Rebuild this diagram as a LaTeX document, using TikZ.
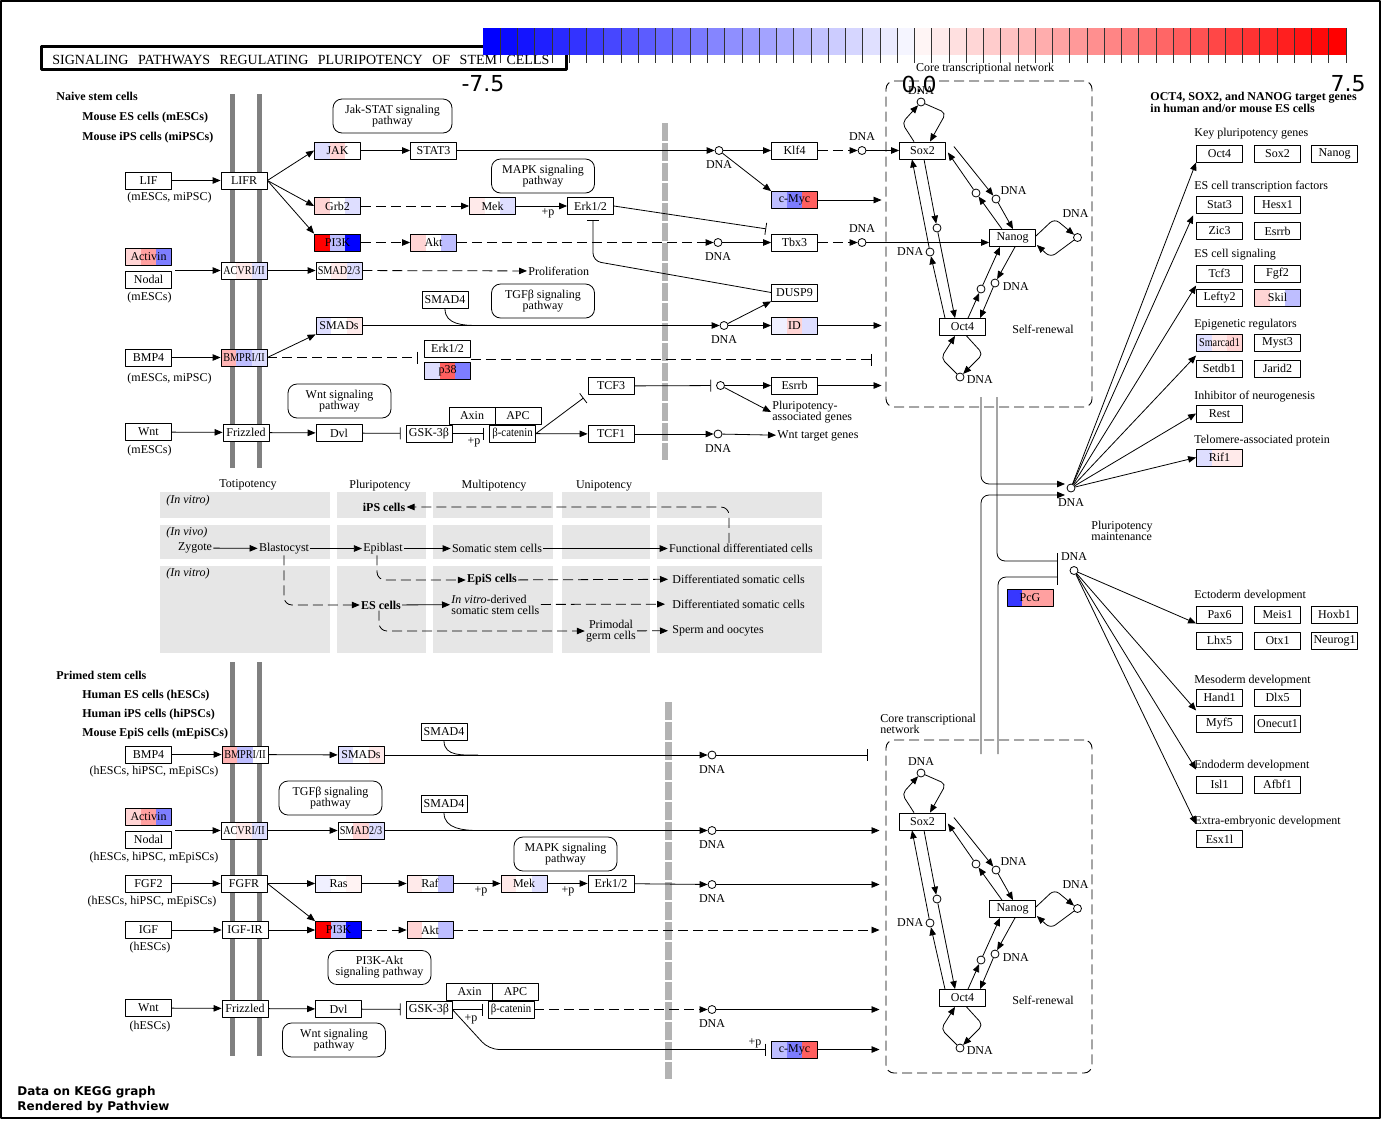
\documentclass[tikz,border=0pt]{standalone}
\usepackage{fontspec}
\usepackage{graphicx}
\setmainfont{Liberation Serif}
\newfontfamily\dejavu{DejaVu Sans}
\usetikzlibrary{arrows.meta,calc,positioning}
% colours of the data boxes
\definecolor{kred}{RGB}{255,0,0}
\definecolor{kredb}{RGB}{255,95,95}
\definecolor{kblue}{RGB}{0,0,255}
\definecolor{kbluep}{RGB}{55,55,255}
\definecolor{kblueb}{RGB}{125,125,255}
\definecolor{kbluec}{RGB}{190,190,255}
\definecolor{kblued}{RGB}{222,222,255}
\definecolor{kbluee}{RGB}{240,240,255}
\definecolor{kpinka}{RGB}{255,212,212}
\definecolor{kpinkb}{RGB}{255,160,160}
\definecolor{kpinkc}{RGB}{255,234,234}
\definecolor{kpinkd}{RGB}{255,180,180}
\definecolor{kpinke}{RGB}{255,243,243}
\definecolor{kgrey}{RGB}{128,128,128}
\definecolor{kdash}{RGB}{179,179,179}
\definecolor{kpanel}{RGB}{230,230,230}
\newcommand\narrowtxt[2][0.85]{\scalebox{#1}[1]{#2}}
\newcommand\titlesp{\hspace{9.5pt}}

\begin{document}
\begin{tikzpicture}[x=1pt,y=-1pt,line width=0.8pt,line join=round,
    every label/.style={lbl},label distance=4.5pt]
  \tikzset{
    gene/.style={draw,fill=white,minimum width=46pt,minimum height=17pt,inner sep=0pt,
      font=\fontsize{12}{12}\selectfont},
    tri/.style n args={3}{path picture={
      \fill[#1] (path picture bounding box.north west) rectangle ([xshift=15.4pt]path picture bounding box.south west);
      \fill[#2] ([xshift=15.4pt]path picture bounding box.north west) rectangle ([xshift=30.7pt]path picture bounding box.south west);
      \fill[#3] ([xshift=30.7pt]path picture bounding box.north west) rectangle (path picture bounding box.south east);}},
    pathbox/.style={draw,rounded corners=9pt,minimum width=103pt,minimum height=34pt,
      align=center,inner sep=0pt,font=\fontsize{12}{11}\selectfont},
    dna/.style={circle,draw,fill=white,minimum size=8pt,inner sep=0pt},
    lbl/.style={inner sep=1pt,font=\fontsize{12}{12}\selectfont},
    bold/.style={font=\bfseries\fontsize{12}{12}\selectfont},
    twoline/.style={align=left,font=\fontsize{12}{11}\selectfont},
    arr/.style={-{Triangle[length=8pt,width=6.5pt]}},
    inh/.style={-{Bar[width=12pt]},shorten >=5pt},
    dsh/.style={dash pattern=on 10pt off 5pt},
    corenet/.pic={
      \node[gene] (-sox2) at (0,0) {Sox2};
      \node[gene] (-nanog) at (90,87.5) {Nanog};
      \node[gene] (-oct4) at (40,176.5) {Oct4};
      \node[dna,label={[label distance=2pt]above:DNA}] (-ds) at (-1.5,-48.5) {};
      \node[dna,label={[label distance=0pt]above right:DNA}] (-dsn) at (73.5,48.5) {};
      \node[dna] (-dns) at (53.5,42.5) {};
      \node[dna] (-dso) at (14.5,77.5) {};
      \node[dna,label={[label distance=1pt]left:DNA}] (-dos) at (7.5,101.5) {};
      \node[dna] (-don) at (58.5,138.5) {};
      \node[dna,label={[label distance=2pt,yshift=-4pt]right:DNA}] (-dno) at (72.5,132.5) {};
      \node[dna,label={[label distance=14pt,xshift=-2pt]above:DNA}] (-dnn) at (155,87) {};
      \node[dna,label={[label distance=1pt,yshift=-3pt]right:DNA}] (-doo) at (37.5,226.5) {};
      \node[lbl] (-self) at (120.5,179) {Self-renewal};
      \draw[arr,rounded corners=5pt] ([xshift=-8.5pt]-sox2.north) -- (-20.5,-27.5) -- (-ds);
      \draw[arr,rounded corners=5pt] (-ds) -- (23.5,-37.5) -- ([xshift=7.5pt]-sox2.north);
      \draw[arr] ([shift={(8,-4)}]-sox2.east) -- (-dsn);
      \draw[arr] (-dsn) -- ([xshift=0.5pt]-nanog.north);
      \draw[arr] ([xshift=-10.5pt]-nanog.north) -- (-dns);
      \draw[arr] (-dns) -- ([shift={(2,2)}]-sox2.east);
      \draw[arr] ([xshift=1.5pt]-sox2.south) -- (-dso);
      \draw[arr] (-dso) -- ([xshift=-7.5pt]-oct4.north);
      \draw[arr] ([xshift=-17.5pt]-oct4.north) -- (-dos);
      \draw[arr] (-dos) -- ([xshift=-10.5pt]-sox2.south);
      \draw[arr] ([xshift=5.5pt]-oct4.north) -- (-don);
      \draw[arr] (-don) -- ([xshift=-12.5pt]-nanog.south);
      \draw[arr] ([xshift=2.5pt]-nanog.south) -- (-dno);
      \draw[arr] (-dno) -- ([xshift=17.5pt]-oct4.north);
      \draw[arr,rounded corners=6pt] ([yshift=2pt]-nanog.east) -- (132,68) -- (-dnn);
      \draw[arr,rounded corners=6pt] (-dnn) -- (128,107) -- ([shift={(1,7)}]-nanog.east);
      \draw[arr,rounded corners=5pt] ([xshift=4pt]-oct4.south) -- (60.5,203.5) -- (-doo);
      \draw[arr,rounded corners=5pt] (-doo) -- (18.5,207.5) -- ([xshift=-7.5pt]-oct4.south);
    }
  }
  \useasboundingbox (0,0) rectangle (1381,1120);
  \draw[line width=1.5pt] (1,1) rectangle (1380,1118);

  % title and colour key
  \node[draw,line width=3pt,minimum width=525pt,minimum height=23pt] (title) at (304,58) {};
  \node[anchor=west,inner sep=0pt,font=\fontsize{14}{14}\selectfont] (titletxt) at (52,59.5)
    {SIGNALING\titlesp PATHWAYS\titlesp REGULATING\titlesp PLURIPOTENCY\titlesp OF\titlesp STEM\titlesp CELLS};
  \foreach \i in {0,...,24}{
    \pgfmathtruncatemacro\p{100-4*\i}
    \fill[kblue!\p!white] ({483+17.26*\i},28) rectangle ++(17.4,27);}
  \foreach \i in {25,...,49}{
    \pgfmathtruncatemacro\p{4*(\i-24)}
    \fill[kred!\p!white] ({483+17.26*\i},28) rectangle ++(17.4,27);}
  \foreach \i in {1,...,50}
    \draw[black!80] ({483+17.26*\i},28) -- ++(0,35);

  % membranes
  \foreach \x in {232.5,259.5}{
    \fill[kgrey] (\x-2.5,94) rectangle (\x+2.5,468);
    \fill[kgrey] (\x-2.5,662) rectangle (\x+2.5,1056);}
  \draw[kdash,line width=6pt,dash pattern=on 17.5pt off 2.5pt] (665,123) -- (665,460);
  \draw[kdash,line width=7pt,dash pattern=on 17.5pt off 2.5pt] (668.5,702) -- (668.5,1079);

  % potency panels
  \foreach \xa/\xb in {160/330,337/426,433/553,562/650,657/822}{
    \fill[kpanel] (\xa,492) rectangle (\xb,518);
    \fill[kpanel] (\xa,525) rectangle (\xb,559);
    \fill[kpanel] (\xa,566) rectangle (\xb,653);}

  % headings
  \node[lbl,bold,anchor=west] (naive) at (55,96) {Naive stem cells};
  \node[lbl,bold,anchor=west] (mes) at (81,118) {Mouse ES cells (mESCs)};
  \node[lbl,bold,anchor=west] (mips) at (81,138) {Mouse iPS cells (miPSCs)};
  \node[lbl,bold,anchor=west] (primed) at (55,675) {Primed stem cells};
  \node[lbl,bold,anchor=west] (hes) at (81,696) {Human ES cells (hESCs)};
  \node[lbl,bold,anchor=west] (hips) at (81,715) {Human iPS cells (hiPSCs)};
  \node[lbl,bold,anchor=west] (meps) at (81,734) {Mouse EpiS cells (mEpiSCs)};

  % naive stem cells: receptors and signalling
  \node[gene] (lif) at (148.5,180.5) {LIF};
  \node[lbl] (liflbl) at (169.5,198) {(mESCs, miPSC)};
  \node[gene] (lifr) at (244,180.5) {LIFR};
  \node[pathbox,minimum width=119pt] (jakstat) at (392.5,116) {Jak-STAT signaling\\pathway};
  \node[gene,tri={kblued}{kpinka}{white}] (jak) at (337.5,150.5) {JAK};
  \node[gene] (stat3) at (433.5,150.5) {STAT3};
  \node[gene,tri={kpinka}{white}{kblued}] (grb2) at (337.5,206) {Grb2};
  \node[gene,tri={kred}{kbluec}{kblue}] (pik) at (337.5,242.5) {PI3K};
  \node[gene,tri={kpinka}{white}{kbluec}] (akt) at (433.5,242.5) {Akt};
  \node[pathbox] (mapka) at (543,176) {MAPK signaling\\pathway};
  \node[gene,tri={kpinkc}{white}{kblued}] (mek) at (492.5,206) {Mek};
  \node[gene] (erk) at (590.5,206) {Erk1/2};
  \node[lbl] (pa) at (548,213) {+p};
  \node[gene,tri={kpinka}{kpinkb}{kblueb}] (activin) at (148.5,256.5) {Activin};
  \node[gene] (nodal) at (148.5,279.5) {Nodal};
  \node[lbl] (nodallbl) at (149.5,298) {(mESCs)};
  \node[gene,tri={white}{kpinkc}{kblued}] (acvr) at (244,270.5) {\narrowtxt{ACVRI/II}};
  \node[gene,tri={white}{kpinkc}{kblued}] (smadtt) at (339,270.5) {\narrowtxt{SMAD2/3}};
  \node[lbl,anchor=west] (prolif) at (527,271) {Proliferation};
  \node[gene] (smadfour) at (445,300) {SMAD4};
  \node[pathbox] (tgfa) at (543,301) {TGFβ signaling\\pathway};
  \node[gene,tri={kblued}{white}{kpinkc}] (smads) at (339,325.5) {SMADs};
  \node[gene] (bmp) at (148.5,357.5) {BMP4};
  \node[lbl] (bmplbl) at (169.5,379) {(mESCs, miPSC)};
  \node[gene,tri={kpinkd}{kbluec}{kblued}] (bmpr) at (244,357.5) {\narrowtxt{BMPRI/II}};
  \node[gene] (erkb) at (447.5,348.5) {Erk1/2};
  \node[gene,tri={kblued}{kredb}{kblueb}] (ptt) at (447.5,371) {p38};
  \node[pathbox] (wnta) at (339.5,401) {Wnt signaling\\pathway};
  \node[gene] (wnt) at (148.5,432) {Wnt};
  \node[lbl] (wntlbl) at (149.5,451) {(mESCs)};
  \node[gene] (fzd) at (246,432.5) {Frizzled};
  \node[gene] (dvl) at (339,433) {Dvl};
  \node[gene] (gsk) at (429,433.5) {GSK-3β};
  \node[gene] (axin) at (472,415.5) {Axin};
  \node[gene] (apc) at (518,415.5) {APC};
  \node[gene] (bcat) at (512.5,433.5) {\narrowtxt[0.9]{β-catenin}};
  \node[lbl] (pb) at (474,442) {+p};
  \node[gene] (tcfthree) at (611,386) {TCF3};
  \node[gene] (tcfone) at (611,434) {TCF1};
  \node[gene] (klf) at (794.5,150.5) {Klf4};
  \node[gene,tri={kbluec}{kblueb}{kredb}] (myc) at (794.5,200) {c-Myc};
  \node[gene] (tbx) at (794.5,242.5) {Tbx3};
  \node[gene] (dusp) at (794.5,292.5) {DUSP9};
  \node[gene,tri={kbluee}{kpinka}{kblued}] (idg) at (794.5,325.5) {ID};
  \node[gene] (esrrb) at (794.5,385.5) {Esrrb};
  \node[dna,label=below:DNA] (d1) at (719,150.5) {};
  \node[dna,label=above:DNA] (d2) at (862,150.5) {};
  \node[dna,label=below:DNA] (d3) at (718,242.5) {};
  \node[dna,label=above:DNA] (d4) at (862,242.5) {};
  \node[dna,label=below:DNA] (d5) at (724,325.5) {};
  \node[dna] (d6) at (720.5,385.5) {};
  \node[dna,label=below:DNA] (d7) at (718,434) {};
  \node[lbl,twoline,anchor=west] (pag) at (771,412) {Pluripotency-\\associated genes};
  \node[lbl,anchor=west] (wtg) at (776,436) {Wnt target genes};

  % core transcriptional networks
  \node[draw=black,line width=0.9pt,dsh,rounded corners=8pt,minimum width=206pt,minimum height=326pt] (coreA) at (989,244) {};
  \node[lbl] (ctna) at (985,69) {Core transcriptional network};
  \pic (top) at (922.5,150.5) {corenet};
  \node[draw=black,line width=0.9pt,dsh,rounded corners=8pt,minimum width=206pt,minimum height=333pt] (coreB) at (989,906.5) {};
  \node[lbl,twoline,anchor=west] (ctnb) at (879,723.5) {Core transcriptional\\network};
  \pic (bot) at (922.5,821.5) {corenet};

  % naive connectors
  \draw[arr] (lif) -- (lifr);
  \draw[arr] (lifr.east) -- (jak.west);
  \draw[arr] (lifr.east) -- (grb2.west);
  \draw[arr] (lifr.east) -- (pik.north west);
  \draw[arr] (jak) -- (stat3);
  \draw[arr] (stat3) -- (d1);
  \draw[arr] (d1) -- (klf);
  \draw[arr] (d1) -- (myc.north west);
  \draw[arr,dsh] (klf) -- (d2);
  \draw[arr] (d2) -- (top-sox2);
  \draw[arr,dsh] (grb2) -- (mek);
  \draw[arr] (mek) -- (erk);
  \draw[inh] (erk.east) -- ([shift={(0,-4)}]tbx.north west);
  \draw[inh,rounded corners=8pt] (dusp.west) -- (593,261) -- ([xshift=2.5pt]erk.south);
  \draw[arr,dsh] (pik) -- (akt);
  \draw[arr,dsh] (akt) -- (d3);
  \draw[arr] (d3) -- (tbx);
  \draw[arr,dsh] (tbx) -- (d4);
  \draw[arr] (d4) -- (d4 -| top-nanog.west);
  \coordinate (an1) at (175,270.5);
  \draw[arr] (an1) -- (acvr);
  \draw[arr] (acvr) -- (smadtt);
  \draw[arr,dsh] (smadtt) -- (prolif);
  \coordinate (jn1) at (478,325.5);
  \draw (smadfour.south) .. controls +(0,16) and +(-14,0) .. (jn1);
  \draw[arr] (smads) -- (d5);
  \draw[arr] (d5) -- (dusp.south west);
  \draw[arr] (d5) -- (idg);
  \draw[arr,shorten >=4pt] (idg) -- (idg -| coreA.west);
  \draw[arr,shorten >=4pt] (myc) -- (myc -| coreA.west);
  \draw[arr] (bmp) -- (bmpr);
  \draw[arr] (bmpr.east) -- (smads.south west);
  \draw[inh,dsh,shorten >=6pt] (bmpr) -- (bmpr -| erkb.west);
  \coordinate (pg1) at ($(erkb.south east)!.5!(ptt.north east)$);
  \draw[inh,dsh,shorten >=14pt] (pg1) -- (pg1 -| coreA.west);
  \draw[arr] (wnt) -- (fzd);
  \draw[arr] (fzd) -- (dvl);
  \draw[inh] (dvl) -- (gsk);
  \draw[inh] (gsk) -- (bcat);
  \draw[arr] (bcat) -- (tcfone);
  \draw[inh] (bcat.east) -- (tcfthree.south west);
  \draw[arr] (tcfone) -- (d7);
  \draw[arr] (d7) -- (wtg);
  \draw[inh] (tcfthree) -- (d6);
  \draw[arr] (d6) -- (esrrb);
  \draw[arr] (d6) -- (pag.west);
  \draw[arr,shorten >=4pt] (esrrb) -- (esrrb -| coreA.west);

  % potency scheme
  \node[lbl] (toti) at (248,485) {Totipotency};
  \node[lbl] (pluri) at (380,486) {Pluripotency};
  \node[lbl] (multi) at (494,486) {Multipotency};
  \node[lbl] (uni) at (604,486) {Unipotency};
  \node[lbl,anchor=west] (iva) at (165,501) {\textit{(In vitro)}};
  \node[lbl,bold] (ips) at (384,507) {iPS cells};
  \node[lbl,anchor=west] (ivb) at (165,533) {\textit{(In vivo)}};
  \node[lbl] (zyg) at (195,548) {Zygote};
  \node[lbl] (blast) at (284,548.5) {Blastocyst};
  \node[lbl] (epib) at (383,548.5) {Epiblast};
  \node[lbl] (somst) at (497,548.5) {Somatic stem cells};
  \node[lbl] (funct) at (741,548.5) {Functional differentiated cells};
  \node[lbl,anchor=west] (ivc) at (165,574) {\textit{(In vitro)}};
  \node[lbl,bold] (epis) at (492,580) {EpiS cells};
  \node[lbl,anchor=west] (difa) at (671,579) {Differentiated somatic cells};
  \node[lbl,bold] (escell) at (381,605) {ES cells};
  \node[lbl,twoline,anchor=west] (ivd) at (450,604.5) {\textit{In vitro}-derived\\somatic stem cells};
  \node[lbl,anchor=west] (difb) at (671,604) {Differentiated somatic cells};
  \node[lbl,twoline,align=center] (pgc) at (611,631) {Primodal\\germ cells};
  \node[lbl,anchor=west] (sperm) at (671,630.5) {Sperm and oocytes};
  \draw[arr] (zyg) -- (blast);
  \draw[arr] (blast) -- (epib);
  \draw[arr] (epib) -- (somst);
  \draw[arr] (somst) -- (funct);
  \draw[arr,dsh,rounded corners=8pt] ([xshift=-12pt]funct.north) |- (ips);
  \draw[arr,dsh,rounded corners=8pt] ([xshift=-6pt]epib.south) |- (epis);
  \draw[arr,dsh,shorten >=3pt] (epis) -- (difa);
  \draw[arr,dsh,rounded corners=8pt] (blast) |- (escell);
  \draw[arr] (escell) -- (ivd);
  \draw[arr,dsh,shorten >=6pt] (ivd) -- (difb);
  \draw[arr,dsh,rounded corners=8pt] ([xshift=-2pt]escell.south) |- (pgc);
  \draw[arr,dsh,shorten >=3pt] (pgc) -- (sperm);

  % primed stem cells
  \node[gene] (bmpB) at (148.5,754.5) {BMP4};
  \node[lbl] (bmplblB) at (154,772) {(hESCs, hiPSC, mEpiSCs)};
  \node[gene,tri={kpinkd}{kbluec}{white}] (bmprB) at (245,754.5) {\narrowtxt{BMPRI/II}};
  \node[gene,tri={kblued}{white}{kpinkc}] (smadsB) at (361,755) {SMADs};
  \node[gene] (smadfourB) at (444,732) {SMAD4};
  \node[pathbox] (tgfB) at (330.5,798) {TGFβ signaling\\pathway};
  \node[gene] (smadfourC) at (444,804) {SMAD4};
  \node[gene,tri={kpinka}{kpinkb}{kblueb}] (activinB) at (148.5,816.5) {Activin};
  \node[gene] (nodalB) at (148.5,839.5) {Nodal};
  \node[lbl] (nodallblB) at (154,858) {(hESCs, hiPSC, mEpiSCs)};
  \node[gene,tri={white}{kpinkc}{kblued}] (acvrB) at (244,830.5) {\narrowtxt{ACVRI/II}};
  \node[gene,tri={white}{kpinka}{kblued}] (smadttB) at (361,830.5) {\narrowtxt{SMAD2/3}};
  \node[gene] (fgf) at (148.5,883.5) {FGF2};
  \node[lbl] (fgflbl) at (152,902) {(hESCs, hiPSC, mEpiSCs)};
  \node[gene] (fgfr) at (244,883.5) {FGFR};
  \node[gene,tri={kbluee}{white}{kpinke}] (ras) at (338.5,883.5) {Ras};
  \node[gene,tri={kpinkc}{white}{kbluec}] (raf) at (430,883.5) {Raf};
  \node[pathbox] (mapkB) at (565.5,854) {MAPK signaling\\pathway};
  \node[gene,tri={kpinkc}{white}{kblued}] (mekB) at (524,883.5) {Mek};
  \node[gene] (erkB) at (611,883.5) {Erk1/2};
  \node[lbl] (pc) at (481,891) {+p};
  \node[lbl] (pd) at (568,891) {+p};
  \node[gene] (igf) at (148.5,930) {IGF};
  \node[lbl] (igflbl) at (150,948) {(hESCs)};
  \node[gene] (igfr) at (245,930) {IGF-IR};
  \node[gene,tri={kred}{kbluec}{kblue}] (pikB) at (338.5,930) {PI3K};
  \node[gene,tri={kpinka}{white}{kbluec}] (aktB) at (430,930) {Akt};
  \node[pathbox] (pikakt) at (379.5,967.5) {PI3K-Akt\\signaling pathway};
  \node[gene] (wntB) at (148.5,1008) {Wnt};
  \node[lbl] (wntlblB) at (150,1027) {(hESCs)};
  \node[gene] (fzdB) at (245,1008.5) {Frizzled};
  \node[gene] (dvlB) at (338.5,1009) {Dvl};
  \node[gene] (gskB) at (429,1009.5) {GSK-3β};
  \node[pathbox] (wntpB) at (334,1040) {Wnt signaling\\pathway};
  \node[gene] (axinB) at (469.5,992) {Axin};
  \node[gene] (apcB) at (515.5,992) {APC};
  \node[gene] (bcatB) at (511,1009.5) {\narrowtxt[0.9]{β-catenin}};
  \node[lbl] (pe) at (471,1019) {+p};
  \node[gene,tri={kbluec}{kblueb}{kredb}] (mycB) at (794.5,1049.5) {c-Myc};
  \node[lbl] (pf) at (755,1043) {+p};
  \node[dna,label=below:DNA] (e1) at (712,755) {};
  \node[dna,label=below:DNA] (e2) at (712,830.5) {};
  \node[dna,label=below:DNA] (e3) at (712,884.5) {};
  \node[dna,label=below:DNA] (e4) at (712,1009.5) {};

  % primed connectors
  \draw[arr] (bmpB) -- (bmprB);
  \draw[arr] (bmprB) -- (smadsB);
  \draw[arr] (smadsB) -- (e1);
  \coordinate (jn2) at (478,755);
  \draw (smadfourB.south) .. controls +(0,16) and +(-14,0) .. (jn2);
  \draw[inh,shorten >=18pt] (e1) -- (e1 -| coreB.west);
  \coordinate (an2) at (175,830.5);
  \draw[arr] (an2) -- (acvrB);
  \draw[arr] (acvrB) -- (smadttB);
  \draw[arr] (smadttB) -- (e2);
  \coordinate (jn3) at (478,830.5);
  \draw (smadfourC.south) .. controls +(0,16) and +(-14,0) .. (jn3);
  \draw[arr,shorten >=6pt] (e2) -- (e2 -| coreB.west);
  \draw[arr] (fgf) -- (fgfr);
  \draw[arr] (fgfr) -- (ras);
  \draw[arr] (ras) -- (raf);
  \draw[arr] (raf) -- (mekB);
  \draw[arr] (mekB) -- (erkB);
  \draw[arr] (erkB) -- (e3);
  \draw[arr,shorten >=6pt] (e3) -- (e3 -| coreB.west);
  \draw[arr] (fgfr.east) -- (pikB.north west);
  \draw[arr] (igf) -- (igfr);
  \draw[arr] (igfr) -- (pikB);
  \draw[arr,dsh] (pikB) -- (aktB);
  \draw[arr,dsh,shorten >=6pt] (aktB) -- (aktB -| coreB.west);
  \draw[arr] (wntB) -- (fzdB);
  \draw[arr] (fzdB) -- (dvlB);
  \draw[inh] (dvlB) -- (gskB);
  \draw[inh] (gskB) -- (bcatB);
  \draw[arr,dsh] (bcatB) -- (e4);
  \draw[arr,shorten >=6pt] (e4) -- (e4 -| coreB.west);
  \draw[inh,rounded corners=10pt] (gskB.east) -- (489,1049.5) -- (mycB.west);
  \draw[arr,shorten >=6pt] (mycB) -- (mycB -| coreB.west);

  % links between the two networks
  \coordinate (ta) at (981,397);
  \coordinate (tb) at (997,397);
  \coordinate (ba) at (981,754);
  \coordinate (bb) at (998,754);
  \node[dna,label=below:DNA] (pm) at (1071,488) {};
  \node[lbl,twoline,anchor=west] (pmt) at (1090,530.5) {Pluripotency\\maintenance};
  \node[dna,label=above:DNA] (dev) at (1074,570.5) {};
  \node[gene,tri={kbluep}{kpinkb}{kpinkb}] (pcg) at (1030,597.5) {PcG};
  \draw[arr,rounded corners=8pt] (ta) |- ([shift={(-6,-4)}]pm.center);
  \draw[arr,rounded corners=8pt] (ba) |- ([shift={(-6,7)}]pm.center);
  \draw[-{Bar[width=16pt]},rounded corners=8pt] (tb) |- ([shift={(-16,-9.5)}]dev.center);
  \draw[-{Bar[width=16pt]},rounded corners=8pt] (bb) |- ([shift={(-16,6.5)}]dev.center);

  % target genes
  \node[lbl,anchor=west,align=left,font=\bfseries\fontsize{12}{10}\selectfont] (tgh) at (1149,102)
    {OCT4, SOX2, and NANOG target genes\\in human and/or mouse ES cells};
  \foreach \gname/\glabel/\gy in {kpg/Key pluripotency genes/134, estf/ES cell transcription factors/187,
      essig/ES cell signaling/255, epig/Epigenetic regulators/325, inhneu/Inhibitor of neurogenesis/397,
      telo/Telomere-associated protein/441, ecto/Ectoderm development/596, meso/Mesoderm development/681,
      endo/Endoderm development/766, extra/Extra-embryonic development/822}
    \node[lbl,anchor=west] (\gname) at (1193,\gy) {\glabel};
  \foreach \gname/\glabel/\gx/\gy in {
      toct/Oct4/1219.5/153.5, tsox/Sox2/1277.5/153.5, tnanog/Nanog/1334.5/153.5,
      tstat/Stat3/1219.5/204.5, thesx/Hesx1/1277.5/204.5,
      tzic/Zic3/1219.5/231, tesrrb/Esrrb/1277.5/231,
      ttcf/Tcf3/1219.5/273.5, tfgf/Fgf2/1277.5/273.5, tlefty/Lefty2/1219.5/297.5,
      tmyst/Myst3/1277.5/342.5, tsetdb/Setdb1/1219.5/368.5, tjarid/Jarid2/1277.5/368.5,
      trest/Rest/1219.5/413.5,
      tpax/Pax6/1219.5/614.5, tmeis/Meis1/1277.5/614.5, thoxb/Hoxb1/1334.5/614.5,
      tlhx/Lhx5/1219.5/640.5, totx/Otx1/1277.5/640.5, tneurog/Neurog1/1334.5/640.5,
      thand/Hand1/1219.5/697.5, tdlx/Dlx5/1277.5/697.5,
      tmyf/Myf5/1219.5/723.5, tonecut/Onecut1/1277.5/723.5,
      tisl/Isl1/1219.5/784.5, tafbf/Afbf1/1277.5/784.5, tesx/Esx1l/1219.5/839}
    \node[gene] (\gname) at (\gx,\gy) {\glabel};
  \node[gene,tri={kpinka}{white}{kbluec}] (tskil) at (1277.5,297.5) {Skil};
  \node[gene,tri={kblued}{kpinkc}{kpinka}] (tsmarc) at (1219.5,342.5) {\narrowtxt{Smarcad1}};
  \node[gene,tri={kblued}{kpinkc}{kpinkc}] (trif) at (1219.5,457.5) {Rif1};
  \draw[arr] (pm) -- (toct.south west);
  \draw[arr] (pm) -- ([shift={(-3,2)}]tstat.south west);
  \draw[arr] (pm) -- ($(ttcf.south west)!.5!(tlefty.north west)$);
  \draw[arr] (pm) -- ($(tsmarc.south west)!.5!(tsetdb.north west)$);
  \draw[arr] (pm) -- (trest.west);
  \draw[arr] (pm) -- (trif.west);
  \draw[arr] (dev) -- (tpax.south west);
  \draw[arr] (dev) -- ($(thand.south west)!.5!(tmyf.north west)$);
  \draw[arr] (dev) -- ([shift={(0,-6)}]tisl.north west);
  \draw[arr] (dev) -- ([shift={(0,-6)}]tesx.north west);

  % key values and footer
  \node[font=\dejavu\fontsize{22}{22}\selectfont] (lo) at (483,84) {-7.5};
  \node[font=\dejavu\fontsize{22}{22}\selectfont] (mid) at (919,84) {0.0};
  \node[font=\dejavu\fontsize{22}{22}\selectfont] (hi) at (1348,84) {7.5};
  \node[anchor=west,align=left,inner sep=0pt,font=\dejavu\bfseries\fontsize{12}{15}\selectfont] (foot)
    at (17,1099.5) {Data on KEGG graph\\Rendered by Pathview};
\end{tikzpicture}
\end{document}
